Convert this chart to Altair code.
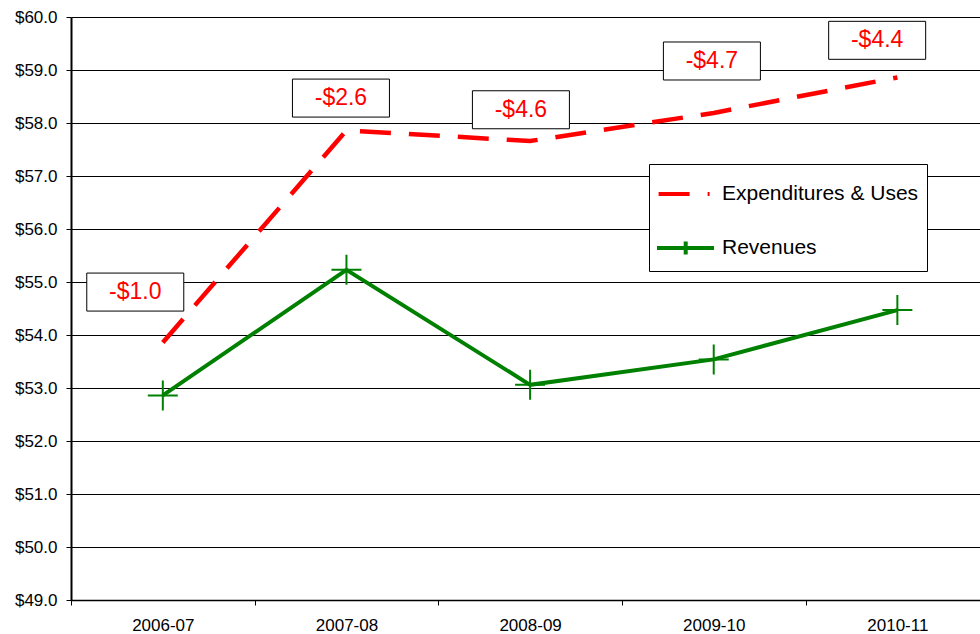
import altair as alt
import pandas as pd

# ---------------- data ----------------
years = ["2006-07", "2007-08", "2008-09", "2009-10", "2010-11"]
expenditures = [53.86, 57.86, 57.66, 58.19, 58.86]
revenues = [52.86, 55.23, 53.06, 53.54, 54.47]
series_names = ["Expenditures & Uses", "Revenues"]

gap_labels = ["-$1.0", "-$2.6", "-$4.6", "-$4.7", "-$4.4"]
gap_label_x = [-0.15, 0.97, 1.95, 2.99, 3.89]
gap_label_y = [54.81, 58.47, 58.25, 59.17, 59.56]

# ---------------- tables ----------------
rows = []
for i, y in enumerate(years):
    rows.append({"idx": i, "year": y, "series": series_names[0], "value": expenditures[i]})
    rows.append({"idx": i, "year": y, "series": series_names[1], "value": revenues[i]})
df = pd.DataFrame(rows)
lab = pd.DataFrame({"idx": gap_label_x, "value": gap_label_y, "text": gap_labels})

FONT = "Liberation Sans"
RED = "#FF0000"
GREEN = "#008000"
PLOT_W = 909
PLOT_H = 583
X_DOMAIN = [-0.5, 4.45]
band = PLOT_W / (X_DOMAIN[1] - X_DOMAIN[0])

label_expr = "[" + ",".join("'" + y + "'" for y in years) + "][round(datum.value)]"

x_axis = alt.Axis(
    values=list(range(len(years))), labelExpr=label_expr, title=None,
    grid=False, tickOffset=-band / 2, labelOffset=band / 2, tickSize=5,
    tickColor="black", domainColor="black", domainWidth=1.5, labelFont=FONT,
    labelFontSize=17, labelColor="black", labelPadding=12,
)
y_axis = alt.Axis(
    values=list(range(49, 61)), format="$.1f", title=None, grid=True,
    gridColor="black", gridWidth=1, gridOpacity=1, tickSize=5, tickColor="black",
    domainColor="black", domainWidth=2, labelFont=FONT, labelFontSize=17,
    labelColor="black", labelPadding=9,
)
x_enc = alt.X("idx:Q", scale=alt.Scale(domain=X_DOMAIN, nice=False, zero=False), axis=x_axis)
y_enc = alt.Y("value:Q", scale=alt.Scale(domain=[49, 60], nice=False, zero=False), axis=y_axis)

base = alt.Chart(df)

exp_line = base.transform_filter(alt.datum.series == series_names[0]).mark_line(
    color=RED, strokeWidth=4.5, strokeDash=[31, 18], strokeCap="butt"
).encode(x=x_enc, y=y_enc)

rev_line = base.transform_filter(alt.datum.series == series_names[1]).mark_line(
    color=GREEN, strokeWidth=4
).encode(x=x_enc, y=y_enc)

rev_marks = base.transform_filter(alt.datum.series == series_names[1]).mark_point(
    shape="M-1,0L1,0M0,-1L0,1", size=900, filled=False, stroke=GREEN,
    strokeWidth=2, opacity=1
).encode(x=x_enc, y=y_enc)

exp_sym = "M-1.02,0L0.53,0M1.43,0L1.53,0"
rev_sym = "M-1.1,0L1.75,0M0.335,-0.33L0.335,0.33"

legend_layer = base.mark_point(opacity=0, size=1600, strokeWidth=4, filled=False).encode(
    x=x_enc, y=y_enc,
    color=alt.Color("series:N", scale=alt.Scale(domain=series_names, range=[RED, GREEN]),
                    legend=alt.Legend(
                        title=None, orient="none", legendX=578, legendY=147,
                        padding=8, strokeColor="black", fillColor="white",
                        symbolOpacity=1, symbolSize=1600, symbolStrokeWidth=4,
                        labelFont=FONT, labelFontSize=21, labelColor="black",
                        labelOffset=21, rowPadding=22, labelLimit=0,
                    )),
    shape=alt.Shape("series:N", scale=alt.Scale(domain=series_names, range=[exp_sym, rev_sym])),
)

boxes = alt.Chart(lab).mark_rect(width=97, height=38, fill="white", stroke="black",
                                 strokeWidth=1).encode(x=x_enc, y=y_enc)
texts = alt.Chart(lab).mark_text(color=RED, font=FONT, fontSize=23, align="center",
                                 baseline="middle").encode(x=x_enc, y=y_enc, text="text:N")

chart = alt.layer(exp_line, rev_line, rev_marks, legend_layer, boxes, texts).properties(
    width=PLOT_W, height=PLOT_H,
    autosize=alt.AutoSizeParams(type="none"),
    padding={"left": 71, "top": 17, "right": 0, "bottom": 34},
    background="white",
).configure_view(stroke=None)

chart.save("out.html", embed_options={"renderer": "svg", "actions": False})
